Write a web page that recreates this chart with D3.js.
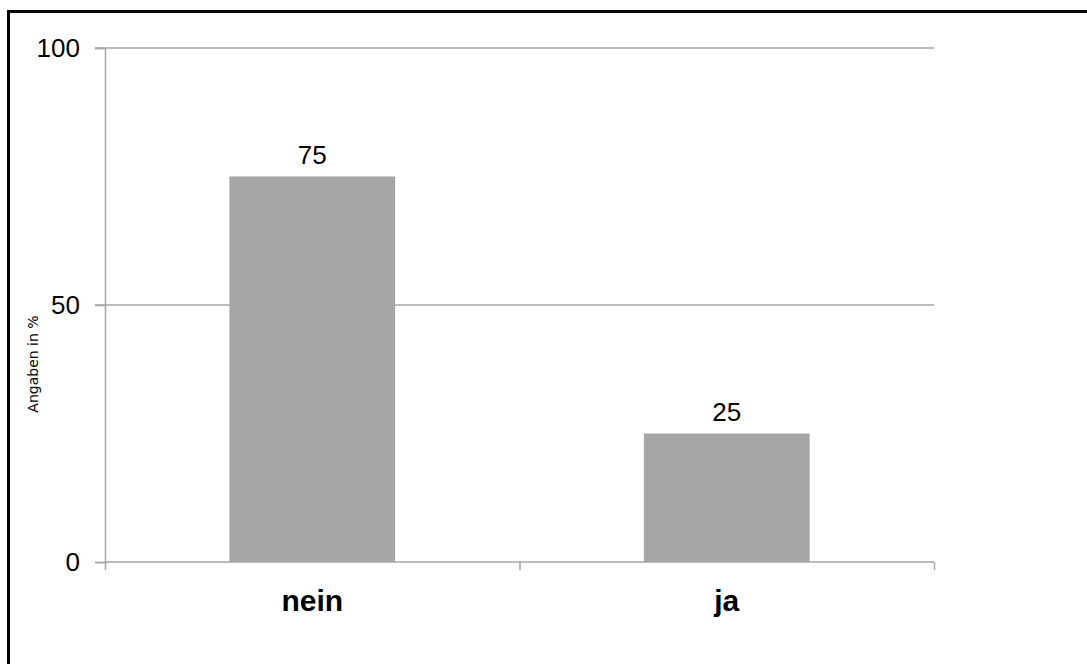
<!DOCTYPE html>
<html>
<head>
<meta charset="utf-8">
<script src="https://cdn.jsdelivr.net/npm/d3@7"></script>
<style>
  html, body { margin: 0; padding: 0; background: #fff; }
  svg { display: block; }
  text { font-family: "Liberation Sans", Arial, sans-serif; fill: #000; }
</style>
</head>
<body>
<svg id="chart" width="1087" height="664"></svg>
<script>
const categories = ["nein", "ja"];
const values = [75, 25];
const yTicks = [0, 50, 100];
const yAxisTitle = "Angaben in %";

const svg = d3.select("#chart");
const W = 1087, H = 664;

// outer frame (only left and top visible)
svg.append("path")
  .attr("d", `M8.5,${H + 5} V11.5 H${W + 5}`)
  .attr("fill", "none").attr("stroke", "#000").attr("stroke-width", 3);

const plot = { left: 105, right: 934, top: 48, bottom: 562 };

const y = d3.scaleLinear().domain([0, 100]).range([plot.bottom, plot.top]);
const x = d3.scaleBand().domain(categories)
  .range([plot.left, plot.right]).paddingInner(0.6).paddingOuter(0.3);

// gridlines
svg.append("g").selectAll("line").data(yTicks.filter(d => d !== 0)).join("line")
  .attr("x1", plot.left - 10).attr("x2", plot.right)
  .attr("y1", d => y(d)).attr("y2", d => y(d))
  .attr("stroke", "#a6a6a6").attr("stroke-width", 1.5);

// y axis
const yAxis = d3.axisLeft(y).tickValues(yTicks).tickSize(10).tickPadding(15).tickFormat(d3.format("d"));
const gy = svg.append("g").attr("transform", `translate(${plot.left},0)`).call(yAxis);
gy.select(".domain").attr("stroke", "#a6a6a6").attr("stroke-width", 1.5);
gy.selectAll(".tick line").attr("stroke", "#a6a6a6").attr("stroke-width", 1.5);
gy.selectAll(".tick text").attr("font-size", 26).attr("fill", "#000");

// bars
svg.append("g").selectAll("rect").data(values).join("rect")
  .attr("x", (d, i) => x(categories[i]))
  .attr("y", d => y(d))
  .attr("width", x.bandwidth())
  .attr("height", d => y(0) - y(d))
  .attr("fill", "#a6a6a6");

// value labels
svg.append("g").selectAll("text").data(values).join("text")
  .attr("x", (d, i) => x(categories[i]) + x.bandwidth() / 2)
  .attr("y", d => y(d) - 13)
  .attr("text-anchor", "middle")
  .attr("font-size", 26)
  .text(d => d);

// x axis
const xLin = d3.scaleLinear().domain([0, categories.length]).range([plot.left, plot.right]);
const gx = svg.append("g").attr("transform", `translate(0,${plot.bottom})`)
  .call(d3.axisBottom(xLin).tickValues(d3.range(categories.length + 1)).tickSize(8).tickFormat(""));
gx.select(".domain").attr("stroke", "#a6a6a6").attr("stroke-width", 1.5).attr("d", `M${plot.left},0H${plot.right}`);
gx.selectAll(".tick line").attr("stroke", "#a6a6a6").attr("stroke-width", 1.5);

// category labels
svg.append("g").selectAll("text").data(categories).join("text")
  .attr("x", d => x(d) + x.bandwidth() / 2)
  .attr("y", 611)
  .attr("text-anchor", "middle")
  .attr("font-size", 30)
  .attr("font-weight", "bold")
  .text(d => d);

// y axis title
svg.append("text")
  .attr("transform", "translate(38,364) rotate(-90)")
  .attr("text-anchor", "middle")
  .style("font-family", "'DejaVu Sans', sans-serif")
  .attr("font-size", 14)
  .text(yAxisTitle);
</script>
</body>
</html>
